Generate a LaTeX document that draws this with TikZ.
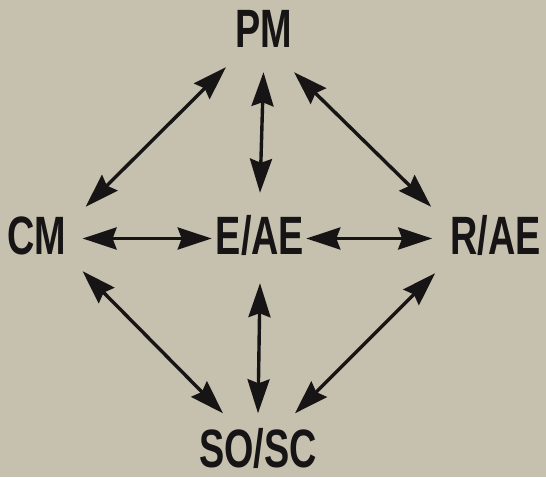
\documentclass[tikz,border=0pt]{standalone}
\usepackage{fontspec}
\usepackage{tikz}
\usetikzlibrary{arrows.meta, positioning}
\newfontfamily\unitfont{Liberation Sans}[FakeStretch=0.70]
\definecolor{paper}{RGB}{198,192,174}
\definecolor{ink}{RGB}{22,20,20}
\tikzstyle{unit}=[inner sep=0pt, text height=37pt, text depth=0pt, text=ink]
\tikzstyle{every node}=[font=\unitfont\bfseries\fontsize{54}{54}\selectfont]
\tikzstyle{link}=[<->, line width=3.4pt, draw=ink, fill=ink]

\begin{document}
\begin{tikzpicture}[x=1pt, y=1pt, >={Stealth[length=34pt, width=22pt, inset=4pt]}]
    \fill[paper] (0,0) rectangle (546,477);
    \useasboundingbox (0,0) rectangle (546,477);
    \node[unit] at (263.5,447.5) (pm) {PM};
    \node[unit, below of=pm, node distance=207pt, xshift=-3.5pt] (eae) {E/AE};
    \node[unit, left of=eae, node distance=223pt] (cm) {CM};
    \node[unit, right of=eae, node distance=235.5pt] (rae) {R/AE};
    \node[unit, below of=eae, node distance=212.5pt, xshift=-2pt] (soc) {SO/SC};
    % upper half
    \draw[link] ([xshift=-9pt, yshift=-19pt]pm.south west) -- ([xshift=19pt, yshift=11pt]cm.north east);
    \draw[link] ([yshift=-24pt]pm.south) -- ([yshift=25pt]eae.north);
    \draw[link] ([xshift=2pt, yshift=-24pt]pm.south east) -- ([xshift=-19pt, yshift=11pt]rae.north west);
    % middle row
    \draw[link] ([xshift=16pt, yshift=-2pt]cm.east) -- ([xshift=-4pt, yshift=-2pt]eae.west);
    \draw[link] ([xshift=2pt, yshift=-2pt]eae.east) -- ([xshift=-18pt, yshift=-2pt]rae.west);
    % lower half
    \draw[link] ([xshift=16pt, yshift=-16pt]cm.south east) -- ([xshift=-35pt, yshift=17pt]soc.north);
    \draw[link] ([yshift=-28pt]eae.south) -- ([yshift=17pt]soc.north);
    \draw[link] ([xshift=-15pt, yshift=-18pt]rae.south west) -- ([xshift=37pt, yshift=17pt]soc.north);
\end{tikzpicture}
\end{document}
